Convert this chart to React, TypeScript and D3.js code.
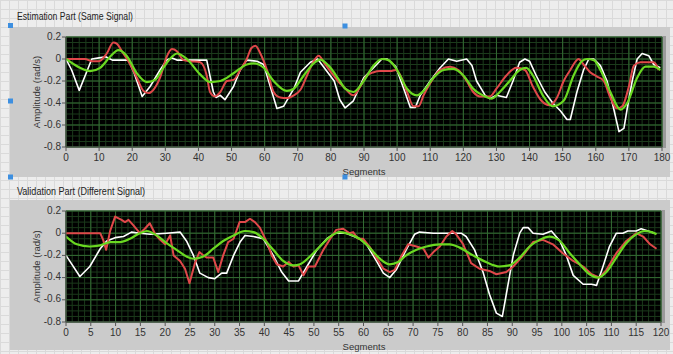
import React from "react";
import * as d3 from "d3";

type Pt = [number, number];

// ---------- Estimation Part (top) ----------
const topXTicks = d3.range(0, 181, 10);
const topWhite: Pt[] = [[0,0],[1.7,-0.1],[4,-0.285],[6.2,-0.12],[7.8,0],[10,0.01],[12,0.02],[14,-0.01],[18.8,-0.01],[20.5,-0.12],[23,-0.34],[25.4,-0.25],[28.4,-0.1],[30.4,-0.01],[32,0.01],[33.5,-0.01],[42.5,-0.01],[44.5,-0.3],[45.3,-0.35],[46.6,-0.33],[48,-0.37],[50.6,-0.25],[52.6,-0.1],[54.6,-0.01],[57.7,-0.02],[59.7,-0.05],[63.7,-0.45],[65.7,-0.43],[68.8,-0.27],[70.8,-0.12],[73.8,-0.03],[76,0],[81,-0.2],[82.7,-0.37],[84.3,-0.445],[86.8,-0.38],[89.9,-0.17],[92.9,-0.08],[95.4,0],[97,0],[99.6,-0.07],[102,-0.27],[104,-0.44],[105.5,-0.44],[107,-0.33],[110,-0.2],[113,-0.08],[115.5,0],[118,-0.02],[121,0],[122.6,-0.06],[124,-0.2],[126.6,-0.33],[128,-0.36],[130,-0.33],[133,-0.35],[135,-0.2],[137,-0.03],[138.6,0],[140,-0.02],[142,-0.15],[144.6,-0.3],[147,-0.4],[149.3,-0.47],[151.3,-0.55],[152.3,-0.55],[154.3,-0.3],[156.3,-0.1],[157.9,0],[159.4,0],[161.4,-0.06],[163.4,-0.2],[165.4,-0.45],[167,-0.66],[168.5,-0.63],[169.5,-0.45],[171,-0.2],[172.5,0],[174,0.05],[176,0.03],[177.5,-0.05],[179.5,-0.08]];
const topRed: Pt[] = [[0,0],[5.7,0],[8,-0.02],[10,-0.02],[12.3,0.05],[14.3,0.15],[15.3,0.14],[17.3,0.05],[19.4,-0.05],[21.4,-0.17],[23.4,-0.29],[25,-0.31],[26.4,-0.28],[28.4,-0.17],[30.4,0.02],[32,0.09],[33.5,0.07],[35.5,-0.01],[37.5,-0.02],[40.5,-0.03],[42.5,-0.15],[43.5,-0.3],[45,-0.34],[46.6,-0.3],[48.6,-0.2],[50.6,-0.19],[52.6,-0.1],[54.6,0],[56,0.1],[57.2,0.12],[58.7,0.05],[60.7,-0.1],[62.7,-0.3],[64.7,-0.35],[66.7,-0.355],[68.8,-0.33],[70.8,-0.28],[72.8,-0.15],[74.8,-0.02],[76.3,0.03],[78.3,-0.05],[80.8,-0.15],[82.7,-0.22],[83.8,-0.25],[86.8,-0.33],[88.9,-0.25],[90.9,-0.15],[92.9,-0.12],[94.9,-0.11],[98,-0.11],[99.6,-0.1],[101,-0.15],[103,-0.3],[105,-0.43],[106.5,-0.43],[108,-0.33],[110,-0.22],[113,-0.1],[116,-0.07],[118.5,-0.1],[121,-0.2],[123,-0.3],[125,-0.34],[128,-0.34],[130,-0.27],[133,-0.15],[136,-0.08],[138.6,-0.1],[141,-0.25],[143.6,-0.38],[146,-0.42],[148.3,-0.35],[150.3,-0.2],[152.3,-0.1],[154.8,0],[156.3,-0.05],[158.3,-0.12],[160.4,-0.16],[162.4,-0.2],[164.4,-0.35],[166.4,-0.45],[168,-0.43],[170,-0.25],[171.5,-0.06],[173.5,-0.03],[177.5,-0.03],[179,-0.1]];
const topGreen: Pt[] = [[0,0],[4.2,-0.08],[7.3,-0.11],[10.3,-0.08],[13.3,0.02],[15.8,0.08],[18.3,0.03],[21.4,-0.13],[24.4,-0.21],[26.9,-0.19],[29.4,-0.08],[32,0.02],[33.5,0.05],[36.5,0],[40.5,-0.14],[43.5,-0.21],[46.6,-0.2],[50.6,-0.13],[54.6,-0.05],[56.7,-0.04],[59.7,-0.08],[62.7,-0.2],[66.7,-0.29],[68.8,-0.27],[71.8,-0.15],[74.8,-0.04],[76.8,-0.005],[79.3,-0.06],[82.7,-0.2],[84.3,-0.27],[86.8,-0.3],[89.9,-0.2],[92.9,-0.06],[95.4,0],[97.4,-0.01],[100,-0.1],[103,-0.27],[106,-0.33],[108,-0.29],[111,-0.17],[114,-0.1],[117,-0.09],[120,-0.15],[123,-0.27],[126.6,-0.34],[128.6,-0.36],[131,-0.3],[134,-0.2],[137,-0.1],[139,-0.08],[141,-0.15],[144,-0.33],[147,-0.43],[150.3,-0.38],[153.3,-0.15],[155.8,-0.02],[157.4,0],[159.4,-0.01],[161.4,-0.1],[164.4,-0.3],[167.5,-0.46],[169.5,-0.4],[172.5,-0.17],[175,-0.07],[177.5,-0.07],[179.5,-0.1]];

// ---------- Validation Part (bottom) ----------
const botXTicks = d3.range(0, 121, 5);
const botWhite: Pt[] = [[0,-0.2],[2.8,-0.39],[4.8,-0.3],[6.9,-0.14],[8.2,-0.07],[9.9,-0.04],[11.6,-0.03],[13.2,0.01],[14.9,0],[17,-0.01],[20.3,0],[23,0.01],[24.3,-0.07],[25.7,-0.2],[27,-0.36],[28.7,-0.4],[30,-0.41],[31.4,-0.36],[32.4,-0.36],[33.8,-0.2],[35.1,-0.08],[36.1,-0.02],[37.8,-0.03],[39.8,-0.05],[41.8,-0.2],[43.5,-0.35],[44.9,-0.43],[46.9,-0.43],[48.6,-0.3],[50.6,-0.15],[52.6,-0.05],[54.3,0],[56.5,0],[59.2,-0.05],[60.6,-0.1],[62.6,-0.25],[64,-0.36],[65.3,-0.4],[66.6,-0.33],[68.6,-0.15],[70.3,-0.01],[71.3,0.01],[74.1,0],[77.4,0],[79.7,0],[80.7,-0.03],[82.4,-0.15],[84.1,-0.35],[85.4,-0.55],[86.8,-0.72],[88,-0.75],[88.8,-0.55],[90.2,-0.2],[91.5,0],[92.2,0.05],[93.2,0.05],[94.2,0],[96.2,-0.01],[97.9,0.02],[99.6,-0.07],[100.9,-0.2],[102.3,-0.38],[104.3,-0.46],[106,-0.46],[107,-0.47],[108.3,-0.3],[109.6,-0.12],[111,0],[112.3,0],[113.3,0.02],[115,0.02],[116,0.04],[117.4,0.02],[118.7,0]];
const botRed: Pt[] = [[0,0],[6.9,0],[7.5,-0.06],[8.1,-0.15],[8.9,0.02],[9.9,0.15],[11.2,0.12],[11.9,0.1],[12.6,0.12],[13.6,0.07],[14.9,0],[15.9,0.04],[16.9,0.09],[18,-0.01],[19,-0.06],[20,-0.1],[21,-0.02],[21.7,-0.2],[23,-0.25],[24,-0.32],[24.9,-0.45],[26,-0.27],[26.9,-0.17],[27.7,-0.2],[28.4,-0.22],[29.7,-0.22],[30.7,-0.35],[31.7,-0.2],[32.7,-0.08],[33.8,-0.05],[35,0.1],[36.1,0.1],[37.1,0.13],[38.1,0.1],[39.1,0.05],[40.5,-0.08],[41.5,-0.2],[42.5,-0.28],[43.8,-0.3],[44.9,-0.26],[45.9,-0.3],[46.9,-0.29],[47.9,-0.38],[48.9,-0.3],[50.2,-0.3],[51.9,-0.15],[53.3,-0.05],[54.5,0.03],[55.9,0.04],[57.2,0],[57.9,0.01],[58.9,-0.05],[59.9,-0.05],[61.2,-0.12],[62.6,-0.22],[64,-0.32],[65.3,-0.35],[66.3,-0.33],[67.7,-0.2],[69,-0.1],[70.7,-0.12],[72.1,-0.14],[73.1,-0.22],[74.1,-0.17],[75.4,-0.12],[76.7,-0.03],[77.9,0.02],[78.7,-0.01],[80.1,-0.1],[81.7,-0.27],[83.4,-0.32],[85.4,-0.34],[86.8,-0.37],[88.8,-0.35],[90.2,-0.3],[92.2,-0.2],[94.2,-0.08],[96.2,-0.06],[98.2,-0.1],[100.2,-0.18],[102.3,-0.25],[104.3,-0.3],[106,-0.37],[107.6,-0.4],[109,-0.33],[111,-0.18],[113,-0.07],[115,0],[116.4,-0.03],[117.8,-0.1],[119.1,-0.14]];
const botGreen: Pt[] = [[0,-0.03],[2.2,-0.1],[4.8,-0.12],[6.9,-0.11],[8.9,-0.08],[10.9,-0.08],[12.9,-0.05],[14.9,0],[16.3,0.02],[18.3,-0.02],[20.3,-0.09],[22.3,-0.15],[24.3,-0.21],[25.7,-0.23],[27.7,-0.21],[29.7,-0.14],[31.7,-0.07],[33.8,-0.02],[36.1,0.02],[37.8,0.01],[39.8,-0.05],[41.8,-0.15],[43.8,-0.25],[45.9,-0.29],[47.2,-0.28],[49.2,-0.21],[51.2,-0.12],[53.3,-0.03],[55.2,0.01],[57.2,-0.01],[59.2,-0.05],[61.2,-0.13],[63.3,-0.23],[65.3,-0.28],[67,-0.26],[68.6,-0.2],[70.7,-0.15],[72.7,-0.12],[75.4,-0.1],[77.4,-0.1],[79.4,-0.13],[82.1,-0.2],[84.7,-0.26],[87.4,-0.3],[89.4,-0.29],[91.5,-0.22],[93.5,-0.12],[95.5,-0.06],[97.5,-0.03],[99.6,-0.07],[101.6,-0.18],[103.6,-0.28],[105.6,-0.37],[107.3,-0.4],[109,-0.35],[111,-0.22],[113,-0.09],[115,-0.01],[116.7,0.02],[118.1,0.01],[119.1,-0.01]];

const yTicks = [0.2, 0, -0.2, -0.4, -0.6, -0.8];
const yTickLabels = ["0.2", "0", "-0.2", "-0.4", "-0.6", "-0.8"];

const FONT = "'Liberation Sans', Arial, sans-serif";

interface PanelProps {
  title: string;
  titleWidth: number;
  titleY: number;
  panelTop: number;
  panelBottom: number;
  plot: { x0: number; x1: number; y0: number; y1: number };
  xMax: number;
  xTicks: number[];
  xMinorDiv: number;
  series: { data: Pt[]; color: string; width: number; smooth: boolean }[];
}

function Panel(p: PanelProps) {
  const x = d3.scaleLinear().domain([0, p.xMax]).range([p.plot.x0, p.plot.x1]);
  const y = d3.scaleLinear().domain([-0.8, 0.2]).range([p.plot.y1, p.plot.y0]);
  const step = p.xTicks[1] - p.xTicks[0];
  const xMinor = d3.range(0, p.xMax + 1e-9, step / p.xMinorDiv);
  const yMinor = d3.range(-0.8, 0.2 + 1e-9, 0.05);
  const clipId = "clip" + p.panelTop;
  return (
    <g>
      <rect x={10} y={p.panelTop} width={660} height={p.panelBottom - p.panelTop} fill="#cbcbcb" />
      <text x={17} y={p.titleY} fontFamily={FONT} fontSize={10} fill="#222" textLength={p.titleWidth} lengthAdjust="spacingAndGlyphs" dominantBaseline="middle">{p.title}</text>
      <rect x={p.plot.x0} y={p.plot.y0} width={p.plot.x1 - p.plot.x0} height={p.plot.y1 - p.plot.y0} fill="#000" />
      <rect x={p.plot.x1} y={p.plot.y0 - 1} width={4} height={p.plot.y1 - p.plot.y0 + 2} fill="#9a9a9a" />
      <g>
        {xMinor.map((v, i) => (
          <line key={"xm" + i} x1={x(v)} x2={x(v)} y1={p.plot.y0} y2={p.plot.y1} stroke="#1b3a1b" strokeWidth={1} />
        ))}
        {yMinor.map((v, i) => (
          <line key={"ym" + i} x1={p.plot.x0} x2={p.plot.x1} y1={y(v)} y2={y(v)} stroke="#1b3a1b" strokeWidth={1} />
        ))}
        {p.xTicks.map((v, i) => (
          <line key={"xM" + i} x1={x(v)} x2={x(v)} y1={p.plot.y0} y2={p.plot.y1} stroke="#336a33" strokeWidth={1} />
        ))}
        {yTicks.map((v, i) => (
          <line key={"yM" + i} x1={p.plot.x0} x2={p.plot.x1} y1={y(v)} y2={y(v)} stroke="#336a33" strokeWidth={1} />
        ))}
      </g>
      <defs>
        <clipPath id={clipId}>
          <rect x={p.plot.x0} y={p.plot.y0} width={p.plot.x1 - p.plot.x0} height={p.plot.y1 - p.plot.y0} />
        </clipPath>
      </defs>
      <g clipPath={`url(#${clipId})`}>
        {p.series.map((s, i) => {
          const gen = d3
            .line<Pt>()
            .x((d) => x(d[0]))
            .y((d) => y(d[1]))
            .curve(s.smooth ? d3.curveMonotoneX : d3.curveLinear);
          return <path key={i} d={gen(s.data) || ""} fill="none" stroke={s.color} strokeWidth={s.width} strokeLinejoin="round" />;
        })}
      </g>
      {/* y axis */}
      {yTicks.map((v, i) => (
        <g key={"yt" + i}>
          <line x1={p.plot.x0 - 4} x2={p.plot.x0} y1={y(v)} y2={y(v)} stroke="#555" />
          <text x={p.plot.x0 - 5} y={y(v)} textAnchor="end" dominantBaseline="middle" fontFamily={FONT} fontSize={10} fill="#333">{yTickLabels[i]}</text>
        </g>
      ))}
      <line x1={p.plot.x0} x2={p.plot.x0} y1={p.plot.y0} y2={p.plot.y1} stroke="#555" />
      <text transform={`translate(37,${(p.plot.y0 + p.plot.y1) / 2}) rotate(-90)`} textAnchor="middle" dominantBaseline="middle" fontFamily={FONT} fontSize={9.5} fill="#333">Amplitude (rad/s)</text>
      {/* x axis */}
      <line x1={p.plot.x0} x2={p.plot.x1} y1={p.plot.y1} y2={p.plot.y1} stroke="#555" />
      {p.xTicks.map((v, i) => (
        <g key={"xt" + i}>
          <line x1={x(v)} x2={x(v)} y1={p.plot.y1} y2={p.plot.y1 + 4} stroke="#555" />
          <text x={x(v)} y={p.plot.y1 + 11} textAnchor="middle" dominantBaseline="middle" fontFamily={FONT} fontSize={10} fill="#333">{String(v)}</text>
        </g>
      ))}
      <text x={364} y={p.plot.y1 + 25} textAnchor="middle" dominantBaseline="middle" fontFamily={FONT} fontSize={9.5} fill="#333">Segments</text>
    </g>
  );
}

function Background() {
  const vx = d3.range(0, 673, 9);
  const hy = d3.range(0, 354, 9);
  return (
    <g>
      <rect x={0} y={0} width={673} height={354} fill="#ededed" />
      {vx.map((v, i) => (
        <line key={"bv" + i} x1={v + 0.5} x2={v + 0.5} y1={0} y2={354} stroke="#dadada" />
      ))}
      {hy.map((v, i) => (
        <line key={"bh" + i} x1={0} x2={673} y1={v + 0.5} y2={v + 0.5} stroke="#dadada" />
      ))}
    </g>
  );
}

const handles: Pt[] = [[10.5, 25.5], [10.5, 101], [10.5, 177], [345, 26], [345, 177]];

export default function App() {
  const seriesTop = [
    { data: topWhite, color: "#ffffff", width: 1.6, smooth: false },
    { data: topRed, color: "#e0484a", width: 2, smooth: true },
    { data: topGreen, color: "#6ad821", width: 2.2, smooth: true },
  ];
  const seriesBot = [
    { data: botWhite, color: "#ffffff", width: 1.6, smooth: false },
    { data: botRed, color: "#e0484a", width: 2, smooth: false },
    { data: botGreen, color: "#6ad821", width: 2.2, smooth: true },
  ];
  return (
    <svg width={673} height={354} style={{ position: "absolute", left: 0, top: 0 }}>
      <Background />
      <Panel
        title="Estimation Part (Same Signal)"
        titleWidth={116}
        titleY={17}
        panelTop={27}
        panelBottom={177}
        plot={{ x0: 66, x1: 662, y0: 37, y1: 147 }}
        xMax={180}
        xTicks={topXTicks}
        xMinorDiv={5}
        series={seriesTop}
      />
      <Panel
        title="Validation Part (Different Signal)"
        titleWidth={128}
        titleY={192}
        panelTop={200}
        panelBottom={350}
        plot={{ x0: 66, x1: 661, y0: 211, y1: 322 }}
        xMax={120}
        xTicks={botXTicks}
        xMinorDiv={4}
        series={seriesBot}
      />
      {handles.map((h, i) => (
        <rect key={"h" + i} x={h[0] - 2.5} y={h[1] - 2.5} width={5} height={5} fill="#3d8fe0" />
      ))}
    </svg>
  );
}
